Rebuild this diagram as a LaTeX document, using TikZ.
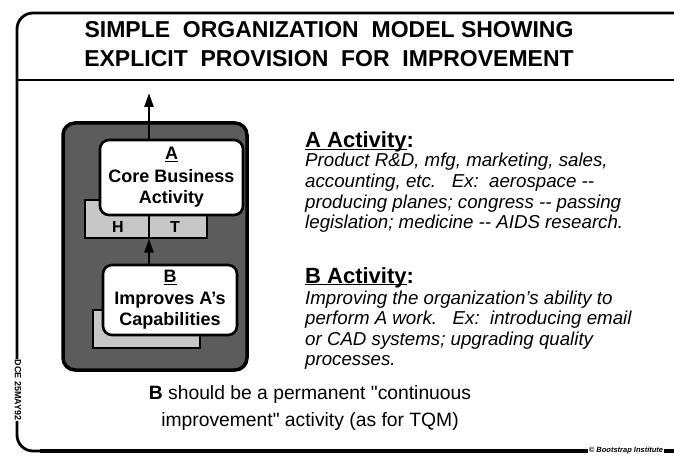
\documentclass[tikz,border=0pt]{standalone}
\usepackage{fontspec}
\setmainfont{Liberation Sans}
\usetikzlibrary{arrows.meta}
\newcommand\myul[2][1.6pt]{\setbox0\hbox{#2}\rlap{\rule[-2.4pt]{\wd0}{#1}}\box0}
\tikzset{
  frameline/.style={line width=2.8pt},
  orgbox/.style={draw, line width=3.5pt, fill=black!64, rounded corners=12pt, inner sep=0pt},
  actbox/.style={draw, line width=2.6pt, fill=white, rounded corners=9pt, inner sep=0pt, align=center, font=\fontsize{18}{21}\selectfont\bfseries},
  shadowbox/.style={draw, line width=1.2pt, fill=black!22, inner sep=0pt},
  flowline/.style={line width=2.6pt},
  flowarrow/.style={line width=2.6pt, -{Triangle[length=14pt,width=9pt]}},
  titletext/.style={inner sep=0pt, anchor=base, font=\fontsize{23}{25}\selectfont\bfseries},
  heading/.style={anchor=base west, inner sep=0pt, font=\fontsize{22}{24}\selectfont\bfseries},
  body/.style={anchor=base west, inner sep=0pt, font=\fontsize{18.7}{20.5}\selectfont\itshape},
  note/.style={anchor=base, inner sep=0pt, font=\fontsize{19.3}{22}\selectfont},
  letter/.style={inner sep=0pt, font=\fontsize{16}{16}\selectfont\bfseries},
  tiny/.style={fill=white, inner sep=1pt}
}
\begin{document}
\begin{tikzpicture}[x=1pt,y=-1pt]
\useasboundingbox (0,0) rectangle (674,457);
\fill[white] (0,0) rectangle (674,457);

% frame
\draw[frameline, rounded corners=16pt] (674,13) -- (17,13) -- (17,451) -- (674,451);
\draw[line width=4.5pt] (40,451) -- (674,451);
\draw[frameline] (17,80) -- (674,80);

% title
\node[titletext] (t1) at (329,38) {SIMPLE\ \ ORGANIZATION\ \ MODEL SHOWING};
\node[titletext] (t2) at (329,67) {EXPLICIT\ \ PROVISION\ \ FOR\ \ IMPROVEMENT};

% diagram
\node[orgbox, minimum width=184pt, minimum height=247pt] (org) at (155,246.5) {};
\node[shadowbox, minimum width=122pt, minimum height=38pt] (ht) at (146,219) {};
\node[letter] (h) at (118,227) {H};
\node[letter] (t) at (175,227) {T};
\node[actbox, minimum width=143pt, minimum height=75pt] (A) at (171.5,177.5)
  {\myul[1.5pt]{A}\\[2pt]Core Business\\Activity};
\node[shadowbox, minimum width=107pt, minimum height=38pt] (bs) at (146.5,329) {};
\node[actbox, minimum width=134pt, minimum height=70pt] (B) at (170,300)
  {\myul[1.5pt]{B}\\[1pt]Improves A's\\Capabilities};

\coordinate (out) at (149,93);
\draw[flowarrow] (A.north -| out) -- (out);
\draw[flowarrow] (B.north -| out) -- (ht.south -| out);
\draw[flowline] (ht.south -| out) -- (A.south -| out);

% right text
\node[heading] (ah) at (305,148) {\myul{A Activity}:};
\node[body] (a1) at (305,167) {Product R\&D, mfg, marketing, sales,};
\node[body] (a2) at (305,187.5) {accounting, etc.\ \ \ Ex:\ \ aerospace -{}-};
\node[body] (a3) at (305,208) {producing planes; congress -{}- passing};
\node[body] (a4) at (305,228.5) {legislation; medicine -{}- AIDS research.};

\node[heading] (bh) at (305,283) {\myul{B Activity}:};
\node[body] (b1) at (305,304) {Improving the organization's ability to};
\node[body] (b2) at (305,324.5) {perform A work.\ \ \ Ex:\ \ introducing email};
\node[body] (b3) at (305,345) {or CAD systems; upgrading quality};
\node[body] (b4) at (305,365.5) {processes.};

% bottom note
\node[note] (n1) at (310,399) {\textbf{B} should be a permanent \textquotedbl continuous};
\node[note] (n2) at (310,426) {improvement\textquotedbl{} activity (as for TQM)};

% marginal marks
\node[tiny, rotate=-90, font=\fontsize{9}{9}\selectfont\bfseries] (dce) at (18,390) {DCE 25MAY92};
\node[tiny, font=\fontsize{7.5}{7.5}\selectfont\bfseries\itshape] (cr) at (626,451) {© Bootstrap Institute};
\end{tikzpicture}
\end{document}
